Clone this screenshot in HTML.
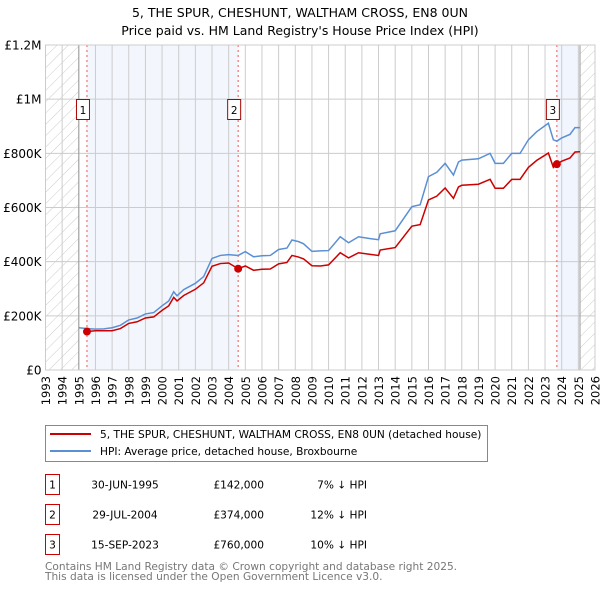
<!DOCTYPE html>
<html><head><meta charset="utf-8"><style>
body{margin:0;background:#fff;font-family:"DejaVu Sans","Liberation Sans",sans-serif;}
svg text{font-family:"DejaVu Sans","Liberation Sans",sans-serif;}
</style></head><body>
<svg id="chart" width="600" height="590" xmlns="http://www.w3.org/2000/svg">
<defs><pattern id="hatch" patternUnits="userSpaceOnUse" width="8" height="8" patternTransform="rotate(45)"><line x1="0" y1="0" x2="0" y2="8" stroke="#ccc" stroke-width="1"/></pattern></defs>
<text x="300" y="17" text-anchor="middle" font-size="12.5">5, THE SPUR, CHESHUNT, WALTHAM CROSS, EN8 0UN</text>
<text x="300" y="35" text-anchor="middle" font-size="12.5">Price paid vs. HM Land Registry's House Price Index (HPI)</text>
<g id="plot"></g>
<rect x="45.5" y="425.5" width="442" height="36" fill="#fff" stroke="#888"/>
<line x1="50" y1="434" x2="91" y2="434" stroke="#cc0000" stroke-width="2"/>
<text x="100" y="438" font-size="10.6">5, THE SPUR, CHESHUNT, WALTHAM CROSS, EN8 0UN (detached house)</text>
<line x1="50" y1="451" x2="91" y2="451" stroke="#5b8fd4" stroke-width="2"/>
<text x="100" y="455" font-size="10.6">HPI: Average price, detached house, Broxbourne</text>
<g id="table" font-size="10.6"></g>
<text x="45" y="570" font-size="10.6" fill="#777">Contains HM Land Registry data © Crown copyright and database right 2025.</text>
<text x="45" y="580" font-size="10.6" fill="#777">This data is licensed under the Open Government Licence v3.0.</text>
</svg>
<script>
const hpiYears=[1995.0,1995.5,1996,1996.5,1997,1997.5,1998,1998.5,1999,1999.5,2000,2000.4,2000.7,2000.9,2001.3,2002,2002.5,2003,2003.5,2004,2004.57,2005,2005.5,2006,2006.5,2007,2007.5,2007.8,2008.2,2008.5,2009,2009.5,2010,2010.7,2011.2,2011.8,2012.5,2013,2013.1,2014,2015,2015.5,2016,2016.5,2017,2017.5,2017.8,2018,2019,2019.7,2020,2020.5,2021,2021.5,2022,2022.5,2023.2,2023.5,2023.71,2024,2024.5,2024.8,2025.1];
const hpiValues=[156,153,151,152,156,165,185,192,207,212,237,255,289,274,297,320,345,412,423,426,423,437,418,422,423,445,450,480,474,466,438,440,441,492,470,492,485,481,503,514,603,610,714,730,763,720,768,775,780,800,763,763,800,800,850,880,911,850,845,857,870,895,895];
const priceYears=[1995.5,1996,1996.5,1997,1997.5,1998,1998.5,1999,1999.5,2000,2000.4,2000.7,2000.9,2001.3,2002,2002.5,2003,2003.5,2004,2004.57,2005,2005.5,2006,2006.5,2007,2007.5,2007.8,2008.2,2008.5,2009,2009.5,2010,2010.7,2011.2,2011.8,2012.5,2013,2013.1,2014,2015,2015.5,2016,2016.5,2017,2017.5,2017.8,2018,2019,2019.7,2020,2020.5,2021,2021.5,2022,2022.5,2023.2,2023.5,2023.71,2024,2024.5,2024.8,2025.1];
const priceValues=[142,145,145,145,153,172,178,192,196,220,237,268,255,275,298,322,383,393,395,374,384,368,372,373,392,397,423,417,410,385,384,388,433,414,433,427,423,443,452,531,537,628,642,672,634,676,682,686,704,671,671,704,704,748,774,801,748,760,771,783,805,806];
const sales=[{n:"1",year:1995.49,value:142,date:"30-JUN-1995",price:"£142,000",diff:"7% ↓ HPI"},{n:"2",year:2004.57,value:374,date:"29-JUL-2004",price:"£374,000",diff:"12% ↓ HPI"},{n:"3",year:2023.71,value:760,date:"15-SEP-2023",price:"£760,000",diff:"10% ↓ HPI"}];
const yTicks=[0,200,400,600,800,1000,1200];
const yTickLabels=["£0","£200K","£400K","£600K","£800K","£1M","£1.2M"];
const xStart=1993,xEnd=2026,dataStart=1995.0,dataEnd=2025.1;
const L=45.5,R=595,T=45,B=370;
const X=y=>L+(y-xStart)/(xEnd-xStart)*(R-L);
const Y=v=>B-v/1200*(B-T);
const NS="http://www.w3.org/2000/svg";
const g=document.getElementById('plot');
function mk(tag,attrs,parent){const e=document.createElementNS(NS,tag);for(const k in attrs)e.setAttribute(k,attrs[k]);(parent||g).appendChild(e);return e;}
let e;
e=mk('rect',{x:X(sales[0].year),y:T,width:X(sales[1].year)-X(sales[0].year),height:B-T,fill:'#eef3fc',opacity:0.7});


e=mk('rect',{x:X(sales[2].year),y:T,width:X(dataEnd)-X(sales[2].year),height:B-T,fill:'#eef3fc',opacity:0.8});


e=mk('rect',{x:L,y:T,width:X(dataStart)-L,height:B-T,fill:'url(#hatch)'});


e=mk('rect',{x:X(dataEnd),y:T,width:R-X(dataEnd),height:B-T,fill:'url(#hatch)'});


for(let yr=xStart;yr<=xEnd;yr++){
 e=mk('line',{x1:X(yr),x2:X(yr),y1:T,y2:B,stroke:'#ccc','stroke-width':1});
 
 
 e=mk('text',{transform:`translate(${X(yr)+4.5},${B+6}) rotate(-90)`,'text-anchor':'end','font-size':11.5});
 e.textContent=yr;
 
 
}
yTicks.forEach((v,i)=>{
 e=mk('line',{x1:L,x2:R,y1:Y(v),y2:Y(v),stroke:'#ccc','stroke-width':1});
 
 
 e=mk('text',{x:L-4,y:Y(v)+4.5,'text-anchor':'end','font-size':12});
 e.textContent=yTickLabels[i];
 
 
});
e=mk('line',{x1:X(dataStart),x2:X(dataStart),y1:T,y2:B,stroke:'#999','stroke-width':1});


e=mk('line',{x1:X(dataEnd),x2:X(dataEnd),y1:T,y2:B,stroke:'#999','stroke-width':1});


sales.forEach(s=>{
 e=mk('line',{x1:X(s.year),x2:X(s.year),y1:T,y2:B,stroke:'#e55','stroke-width':1,'stroke-dasharray':'2,3'});
 
 
});
e=mk('polyline',{points:hpiYears.map((y,i)=>X(y)+','+Y(hpiValues[i])).join(' '),fill:'none',stroke:'#5b8fd4','stroke-width':1.5});


e=mk('polyline',{points:priceYears.map((y,i)=>X(y)+','+Y(priceValues[i])).join(' '),fill:'none',stroke:'#cc0000','stroke-width':1.5});


sales.forEach(s=>{
 e=mk('circle',{cx:X(s.year),cy:Y(s.value),r:4,fill:'#cc0000'});
 
 
 e=mk('rect',{x:X(s.year)-10.5,y:99.5,width:13,height:20,fill:'#fff',stroke:'#aa0000'});
 
 
 e=mk('text',{x:X(s.year)-4,y:114,'text-anchor':'middle','font-size':10.5});
 e.textContent=s.n;
 
 
});
e=mk('rect',{x:L,y:T,width:R-L,height:B-T,fill:'none',stroke:'#ccc'});


const tb=document.getElementById('table');
const rowY=[483,513,543];
sales.forEach((s,i)=>{
 const y=rowY[i];
 e=mk('rect',{x:45.5,y:y-8.5,width:14,height:20,fill:'#fff',stroke:'#cc0000'},tb);
 
 
 e=mk('text',{x:52.5,y:y+5.5,'text-anchor':'middle'},tb);e.textContent=s.n;
 
 
 e=mk('text',{x:125,y:y+5.5,'text-anchor':'middle'},tb);e.textContent=s.date;
 
 
 e=mk('text',{x:264,y:y+5.5,'text-anchor':'end'},tb);e.textContent=s.price;
 
 
 e=mk('text',{x:367,y:y+5.5,'text-anchor':'end'},tb);e.textContent=s.diff;
 
 
});
</script>
</body></html>
